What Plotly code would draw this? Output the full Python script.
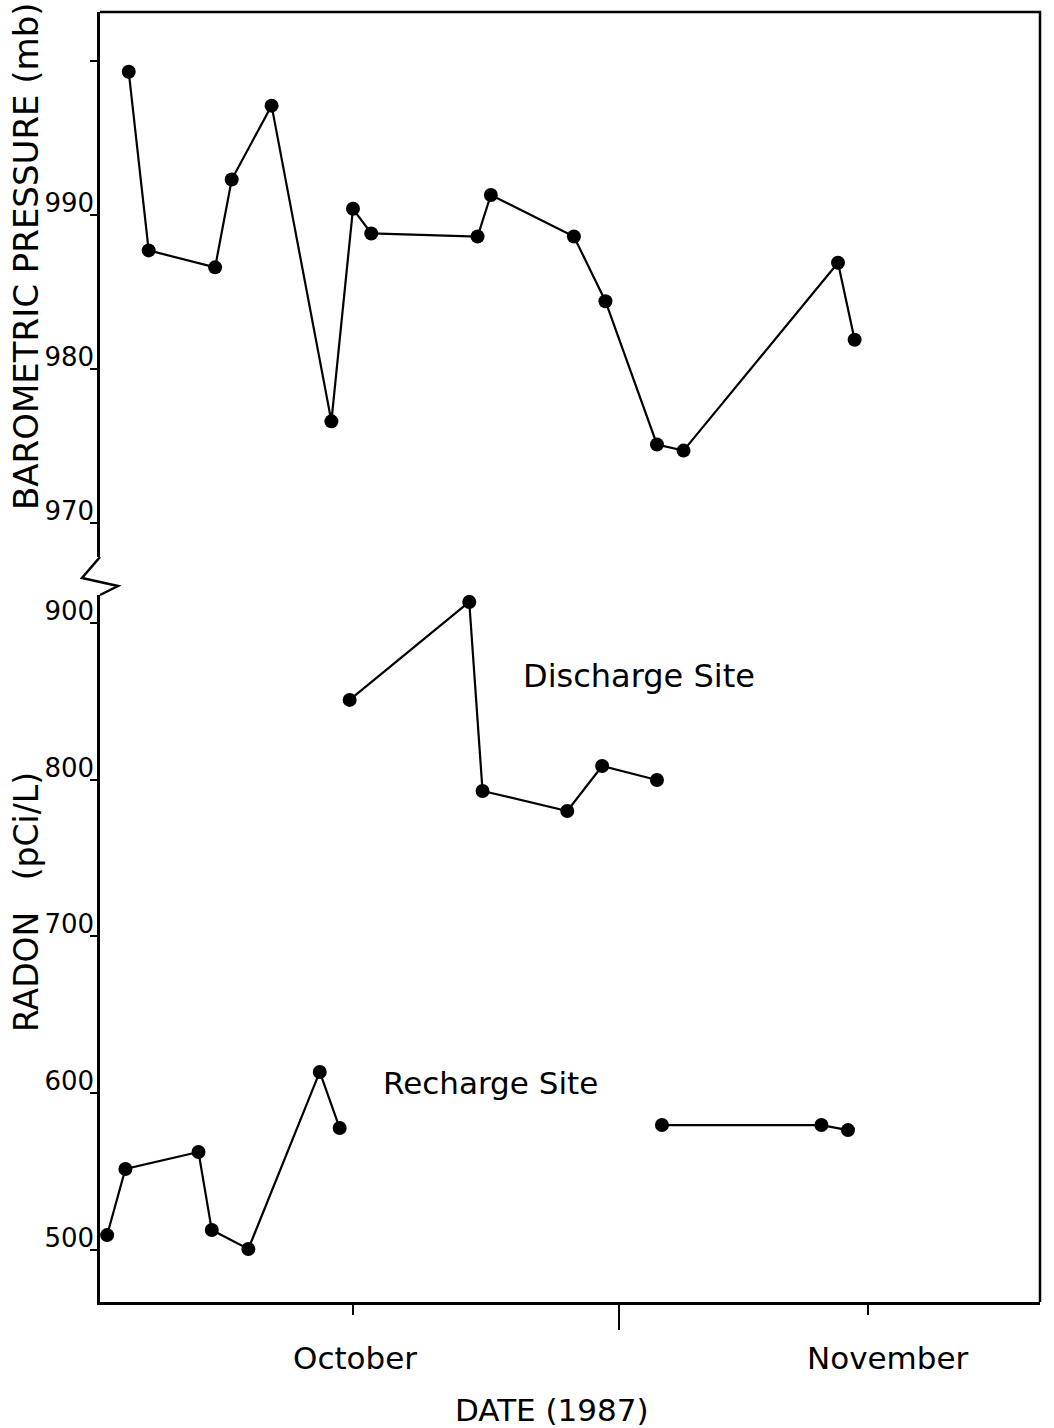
import plotly.graph_objects as go

# Days elapsed since 1 September 1987 (Oct 1 = 30, Nov 1 = 61)
pressure_day = [16.5, 17.7, 21.7, 22.7, 25.1, 28.7, 30.0, 31.1, 37.5, 38.3,
                43.3, 45.2, 48.3, 49.9, 59.2, 60.2]
pressure_mb = [999.3, 987.7, 986.6, 992.3, 997.1, 976.6, 990.4, 988.8, 988.6, 991.3,
               988.6, 984.4, 975.1, 974.7, 986.9, 981.9]

discharge_day = [29.8, 37.0, 37.8, 42.9, 45.0, 48.3]
discharge_radon = [850.9, 913.4, 792.8, 780.0, 808.7, 799.8]

# None leaves the gap in the recharge-site record
recharge_day = [15.2, 16.3, 20.7, 21.5, 23.7, 28.0, 29.2, None, 48.6, 58.2, 59.8]
recharge_radon = [509.4, 551.6, 562.4, 512.6, 500.5, 613.5, 577.7, None, 579.6, 579.6, 576.4]

month_days = [30, 61]
month_names = ["October", "November"]
mid_tick_day = [46]

pressure_ticks = [970, 980, 990, 1000]
pressure_ticktext = ["970", "980", "990", ""]
radon_ticks = [500, 600, 700, 800, 900]
radon_ticktext = ["500", "600", "700", "800", "900"]

FONT = "DejaVu Sans"
INK = "black"

line_style = dict(color=INK, width=2.2)
marker_style = dict(color=INK, size=14)

x_range = [14.77, 71.36]
p_range = [967.79, 1003.18]
r_range = [466.7, 917.87]
p_domain = [0.5775, 1.0]
r_domain = [0.0, 0.5481]

fig = go.Figure()
fig.add_trace(go.Scatter(x=pressure_day, y=pressure_mb, mode="lines+markers",
                         line=line_style, marker=marker_style, xaxis="x", yaxis="y"))
fig.add_trace(go.Scatter(x=discharge_day, y=discharge_radon, mode="lines+markers",
                         line=line_style, marker=marker_style, xaxis="x", yaxis="y2"))
fig.add_trace(go.Scatter(x=recharge_day, y=recharge_radon, mode="lines+markers",
                         line=line_style, marker=marker_style, xaxis="x", yaxis="y2",
                         connectgaps=False))

# invisible traces that keep the tick-only overlay axes drawn
hidden = dict(mode="markers", marker=dict(size=1, opacity=0), hoverinfo="skip")
fig.add_trace(go.Scatter(x=[x_range[0]], y=[r_range[0]], xaxis="x3", yaxis="y2", **hidden))
fig.add_trace(go.Scatter(x=[x_range[0]], y=[p_range[0]], xaxis="x", yaxis="y3", **hidden))
fig.add_trace(go.Scatter(x=[x_range[0]], y=[r_range[0]], xaxis="x", yaxis="y4", **hidden))

label_axis = dict(anchor="x", showline=True, linecolor=INK, linewidth=2.5,
                  showgrid=False, zeroline=False, ticks="",
                  tickfont=dict(size=26, family=FONT), ticklabelshift=-12,
                  ticklabelstandoff=-2)
tick_axis = dict(anchor="x", showline=False, showgrid=False, zeroline=False,
                 ticks="outside", ticklen=9, tickwidth=2, tickcolor=INK,
                 showticklabels=False)

fig.update_layout(
    width=1054, height=1428,
    margin=dict(l=100, r=14, t=12, b=126),
    paper_bgcolor="white", plot_bgcolor="white",
    showlegend=False,
    font=dict(family=FONT, color=INK),
    xaxis=dict(range=x_range, anchor="y2", showline=True, linecolor=INK, linewidth=2.5,
               showgrid=False, zeroline=False, ticks="outside", ticklen=10,
               tickwidth=2, tickcolor=INK, tickvals=month_days,
               showticklabels=False),
    xaxis3=dict(range=x_range, overlaying="x", anchor="y2", showline=False,
                showgrid=False, zeroline=False, ticks="outside", ticklen=27,
                tickwidth=2, tickcolor=INK, tickvals=mid_tick_day,
                showticklabels=False),
    yaxis=dict(domain=p_domain, range=p_range, tickvals=pressure_ticks,
               ticktext=pressure_ticktext, **label_axis),
    yaxis2=dict(domain=r_domain, range=r_range, tickvals=radon_ticks,
                ticktext=radon_ticktext, **label_axis),
    yaxis3=dict(overlaying="y", range=p_range, tickvals=pressure_ticks, **tick_axis),
    yaxis4=dict(overlaying="y2", range=r_range, tickvals=radon_ticks, **tick_axis),
)

# Frame: top and right edges, plus the axis break zigzag
fig.add_shape(type="path", xref="paper", yref="paper",
              path="M 0,1 L 1,1 L 1,0", line=dict(color=INK, width=2.5))
fig.add_shape(type="path", xref="paper", yref="paper",
              xsizemode="pixel", ysizemode="pixel", xanchor=0, yanchor=0,
              path="M 0,745 L -18,724 L 18,716 L 0,707",
              line=dict(color=INK, width=2.5))

annotations = [
    dict(text="BAROMETRIC PRESSURE (mb)", textangle=-90, xref="paper", yref="paper",
         x=(26 - 100) / 940, y=(1302 - 256) / 1290, showarrow=False,
         font=dict(size=34, family=FONT), xanchor="center", yanchor="middle"),
    dict(text="RADON\u00a0\u00a0\u00a0(pCi/L)", textangle=-90, xref="paper", yref="paper",
         x=(26 - 100) / 940, y=(1302 - 902) / 1290, showarrow=False,
         font=dict(size=33, family=FONT), xanchor="center", yanchor="middle"),
    dict(text="DATE (1987)", xref="paper", yref="paper",
         x=(552 - 100) / 940, y=(1302 - 1410) / 1290, showarrow=False,
         font=dict(size=31, family=FONT), xanchor="center", yanchor="middle"),
    dict(text="Discharge Site", xref="x", yref="y2", x=47.2, y=866.2, showarrow=False,
         font=dict(size=32, family=FONT), xanchor="center", yanchor="middle"),
    dict(text="Recharge Site", xref="x", yref="y2", x=38.25, y=606.4, showarrow=False,
         font=dict(size=31, family=FONT), xanchor="center", yanchor="middle"),
]
month_shift = [2, 20]
for d, name, sh in zip(month_days, month_names, month_shift):
    annotations.append(dict(text=name, xref="x", yref="paper", x=d, xshift=sh,
                            y=(1302 - 1358) / 1290, showarrow=False,
                            font=dict(size=31, family=FONT),
                            xanchor="center", yanchor="middle"))
fig.update_layout(annotations=annotations)

fig.write_html("out.html")
